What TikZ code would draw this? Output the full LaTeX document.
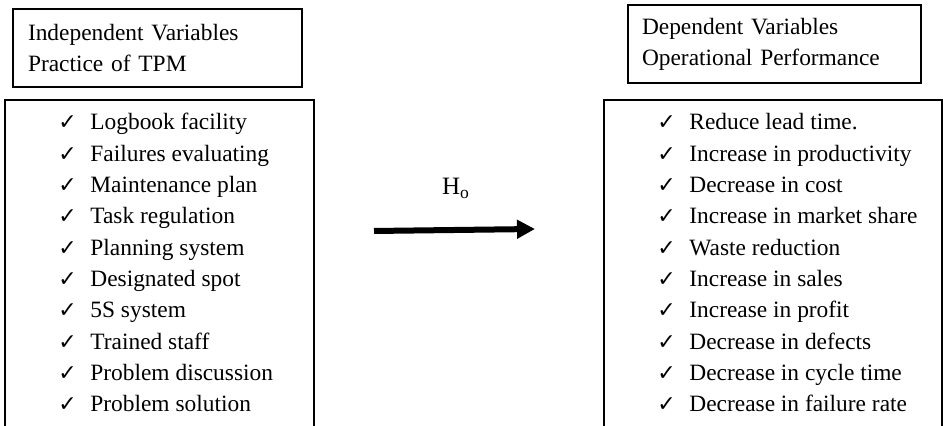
\documentclass[tikz,border=0pt]{standalone}
\usepackage{fontspec}
\setmainfont{Liberation Serif}
\newfontfamily\chkfont{DejaVu Sans}
\usetikzlibrary{arrows.meta}
\tikzset{%
    hdbox/.style={draw, line width=1pt, align=left, minimum height=39pt, font=\fontsize{11.7}{15.5}\selectfont},
    lst/.style={inner sep=0pt, align=left, anchor=base west, font=\fontsize{11.7}{15.67}\selectfont},
    frm/.style={line width=1pt},
    hyp/.style={line width=3pt, -{Triangle[length=9pt, width=9pt]}},
}
\newcommand{\ck}{\makebox[16pt][l]{\chkfont\fontsize{11}{11}\selectfont ✓}}

\begin{document}
\begin{tikzpicture}[x=0.5pt, y=-0.5pt]
    \useasboundingbox (0,0) rectangle (943,426);
    % heading boxes
    \node [hdbox, inner xsep=7.5pt, minimum width=144.5pt, text width=129.5pt] (indep) at (157.5,48) {Independent Variables\\Practice of TPM};
    \node [hdbox, inner xsep=7pt, minimum width=146.5pt, text width=132.5pt] (dep) at (774.5,44) {Dependent Variables\\Operational Performance};
    % item lists (base = last line)
    \node [lst] (indlist) at (58,412) {\ck Logbook facility\\\ck Failures evaluating\\\ck Maintenance plan\\\ck Task regulation\\\ck Planning system\\\ck Designated spot\\\ck 5S system\\\ck Trained staff\\\ck Problem discussion\\\ck Problem solution};
    \node [lst] (deplist) at (657,412) {\ck Reduce lead time.\\\ck Increase in productivity\\\ck Decrease in cost\\\ck Increase in market share\\\ck Waste reduction\\\ck Increase in sales\\\ck Increase in profit\\\ck Decrease in defects\\\ck Decrease in cycle time\\\ck Decrease in failure rate};
    \draw [frm] (5,426) |- (314,100) -- (314,426);
    \draw [frm] (604,426) |- (942,100) -- (942,426);
    % hypothesis
    \node [anchor=base, font=\fontsize{12.5}{15}\selectfont] (ho) at (456,195) {H\textsubscript{o}};
    \coordinate (ast) at (374,231);
    \coordinate (aen) at (535,229);
    \draw [hyp] (ast) -- (aen);
\end{tikzpicture}
\end{document}
